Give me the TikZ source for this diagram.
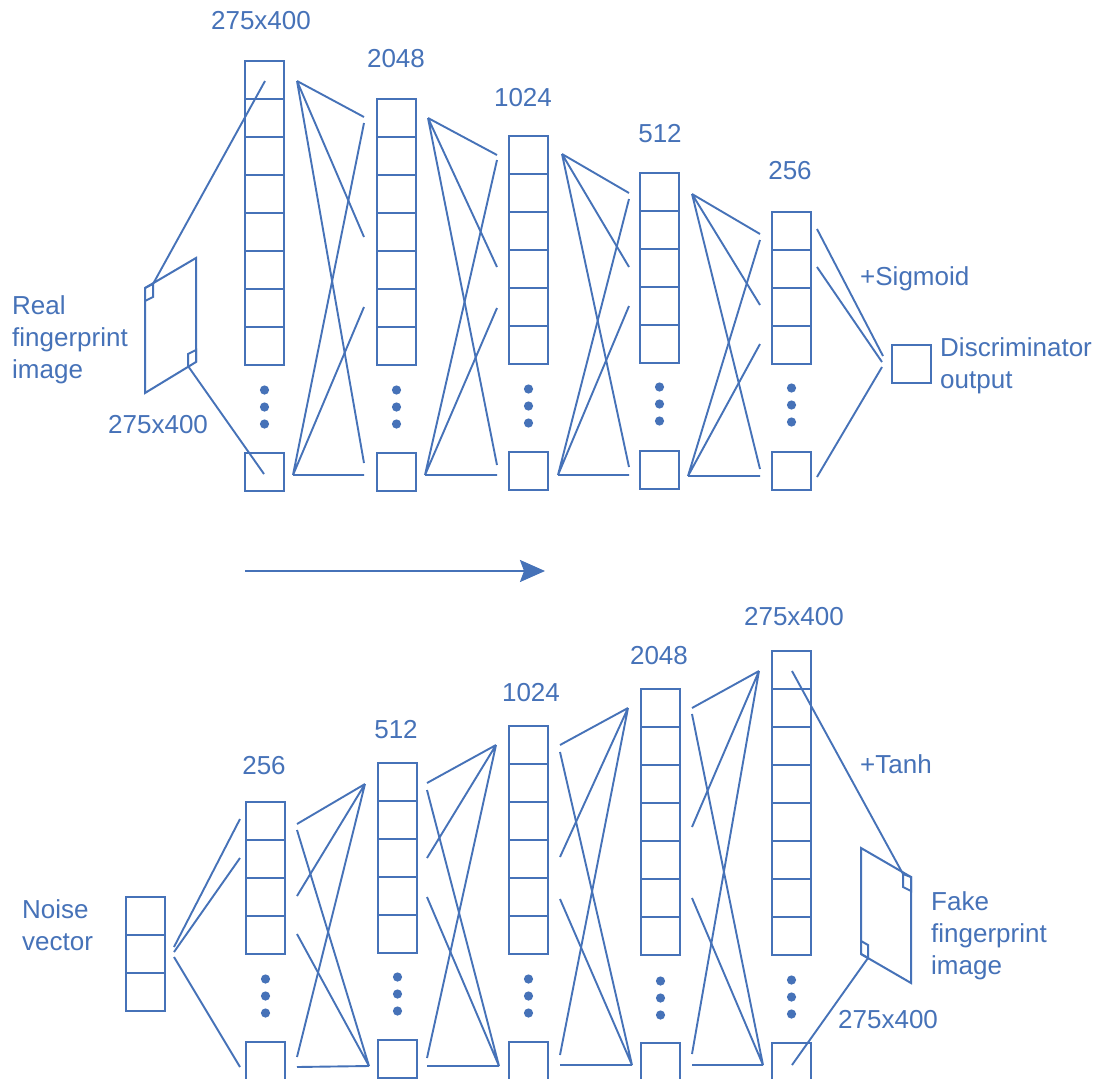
\documentclass[tikz,border=0pt]{standalone}
\usepackage{fontspec}
\setmainfont{Liberation Sans}
\usetikzlibrary{arrows.meta}
\definecolor{nnblue}{RGB}{70,114,184}
\tikzset{
  cell/.style={draw=nnblue, line width=2.2pt, minimum width=39pt, minimum height=38pt, inner sep=0pt, outer sep=0pt},
  conn/.style={draw=nnblue, line width=1.9pt},
  lbl/.style={text=nnblue, font=\fontsize{26}{32}\selectfont, inner sep=0pt, align=left},
  pic/.style={draw=nnblue, line width=2pt, line join=miter},
}
% #1 name, #2 x left, #3 y top, #4 cells, #5 y top of bottom box, #6 first dot y
\newcommand{\nnlayer}[6]{%
  \foreach \i in {1,...,#4} {\node[cell, anchor=north west] (#1c\i) at (#2,{#3+38*(\i-1)}) {};}
  \node[cell, anchor=north west] (#1b) at (#2,#5) {};
  \foreach \j in {0,1,2} {\fill[nnblue] ({#2+19.5},{#6+17*\j}) circle[radius=4.6pt];}
}
% #1 name, (#2,#3) hub, #4 x of far ends, #5 #6 #7 y of far ends
\newcommand{\nnfan}[7]{%
  \coordinate (#1) at (#2,#3);
  \coordinate (#1e1) at (#4,#5);
  \coordinate (#1e2) at (#4,#6);
  \coordinate (#1e3) at (#4,#7);
  \draw[conn] (#1) -- (#1e1) (#1) -- (#1e2) (#1) -- (#1e3);
}
\begin{document}
\begin{tikzpicture}[x=1pt,y=-1pt]
\clip (0,0) rectangle (1098,1079);
\fill[white] (0,0) rectangle (1098,1079);

% ===== Discriminator =====
\nnlayer{D1}{245}{61}{8}{453}{390}
\nnlayer{D2}{377}{99}{7}{453}{390}
\nnlayer{D3}{509}{136}{6}{452}{389}
\nnlayer{D4}{640}{173}{5}{451}{387}
\nnlayer{D5}{772}{212}{4}{452}{388}
\node[cell, anchor=north west] (dout) at (892,345) {};

\nnfan{a1t}{297}{81}{364}{117}{237}{463}
\nnfan{a1b}{293}{475}{364}{123}{307}{475}
\nnfan{a2t}{428}{118}{497}{155}{267}{465}
\nnfan{a2b}{425}{475}{497}{160}{308}{475}
\nnfan{a3t}{562}{154}{629}{193}{267}{467}
\nnfan{a3b}{558}{475}{629}{199}{306}{475}
\nnfan{a4t}{692}{194}{760}{234}{305}{469}
\nnfan{a4b}{688}{476}{760}{240}{344}{476}

\coordinate (s1) at (817,229); \coordinate (s1e) at (883,356);
\coordinate (s2) at (817,267); \coordinate (s2e) at (882,362);
\coordinate (s3) at (817,477); \coordinate (s3e) at (882,367);
\draw[conn] (s1) -- (s1e) (s2) -- (s2e) (s3) -- (s3e);

% real image
\coordinate (rA) at (145,288); \coordinate (rB) at (196,258);
\coordinate (rC) at (196,362); \coordinate (rD) at (145,393);
\draw[pic] (rA) -- (rB) -- (rC) -- (rD) -- cycle;
\coordinate (rq1) at (153,284); \coordinate (rq2) at (188,366);
\draw[pic] (rA) -- (rq1) -- (153,297) -- (145,301);
\draw[pic] (rC) -- (196,350) -- (188,354) -- (rq2);
\coordinate (d1p) at (265,81); \coordinate (d1q) at (264,474);
\draw[conn] (rq1) -- (d1p) (rq2) -- (d1q);

% labels
\node[lbl, anchor=base] (t1) at (261,29) {275x400};
\node[lbl, anchor=base] (t2) at (396,67) {2048};
\node[lbl, anchor=base] (t3) at (523,106) {1024};
\node[lbl, anchor=base] (t4) at (660,142) {512};
\node[lbl, anchor=base] (t5) at (790,179) {256};
\node[lbl, anchor=base west] (tsig) at (860,285) {+Sigmoid};
\node[lbl, anchor=base west] (tdis) at (940,388) {Discriminator\\output};
\node[lbl, anchor=base west] (treal) at (12,378) {Real\\fingerprint\\image};
\node[lbl, anchor=base west] (trs) at (108,433) {275x400};

% arrow
\coordinate (arS) at (245,571); \coordinate (arE) at (545,571);
\draw[conn, -{Stealth[length=25pt,width=22pt,inset=4pt]}] (arS) -- (arE);

% ===== Generator =====
\foreach \i in {1,2,3} {\node[cell, anchor=north west] (nz\i) at (126,{897+38*(\i-1)}) {};}
\nnlayer{G1}{246}{802}{4}{1042}{979}
\nnlayer{G2}{378}{763}{5}{1040}{977}
\nnlayer{G3}{509}{726}{6}{1042}{979}
\nnlayer{G4}{641}{689}{7}{1043}{981}
\nnlayer{G5}{772}{651}{8}{1043}{980}

\coordinate (n1) at (174,947); \coordinate (n1e) at (240,819);
\coordinate (n2) at (174,952); \coordinate (n2e) at (240,858);
\coordinate (n3) at (174,957); \coordinate (n3e) at (240,1067);
\draw[conn] (n1) -- (n1e) (n2) -- (n2e) (n3) -- (n3e);

\nnfan{c1t}{365}{784}{297}{824}{896}{1057}
\nnfan{c1b}{369}{1066}{297}{830}{934}{1067}
\nnfan{c2t}{496}{745}{427}{783}{858}{1058}
\nnfan{c2b}{499}{1066}{427}{790}{897}{1066}
\nnfan{c3t}{628}{708}{560}{745}{857}{1055}
\nnfan{c3b}{632}{1065}{560}{752}{899}{1065}
\nnfan{c4t}{759}{671}{692}{708}{827}{1054}
\nnfan{c4b}{763}{1065}{692}{714}{898}{1065}

% fake image
\coordinate (fA) at (861,848); \coordinate (fB) at (911,877);
\coordinate (fC) at (911,983); \coordinate (fD) at (861,954);
\draw[pic] (fA) -- (fB) -- (fC) -- (fD) -- cycle;
\coordinate (fq1) at (903,874); \coordinate (fq2) at (868,958);
\draw[pic] (fq1) -- (fB) -- (911,891) -- (903,887) -- cycle;
\draw[pic] (861,941) -- (868,945) -- (fq2) -- (fD);
\coordinate (g5p) at (792,671); \coordinate (g5q) at (792,1065);
\draw[conn] (g5p) -- (fq1) (g5q) -- (fq2);

% labels
\node[lbl, anchor=base] (u1) at (264,774) {256};
\node[lbl, anchor=base] (u2) at (396,738) {512};
\node[lbl, anchor=base] (u3) at (531,701) {1024};
\node[lbl, anchor=base] (u4) at (659,664) {2048};
\node[lbl, anchor=base] (u5) at (794,625) {275x400};
\node[lbl, anchor=base west] (utanh) at (860,773) {+Tanh};
\node[lbl, anchor=base west] (unoise) at (22,950) {Noise\\vector};
\node[lbl, anchor=base west] (ufake) at (931,974) {Fake\\fingerprint\\image};
\node[lbl, anchor=base west] (ufs) at (838,1028) {275x400};
\end{tikzpicture}
\end{document}
